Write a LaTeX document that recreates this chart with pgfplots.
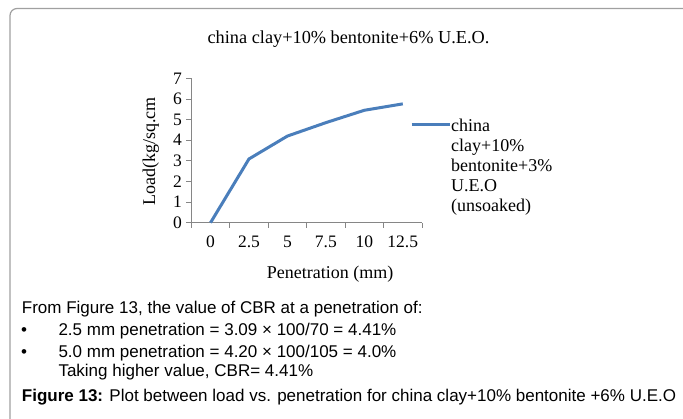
\documentclass[border=0pt]{standalone}
\usepackage{pgfplots}
\pgfplotsset{compat=1.18}
\usepackage{fontspec}
\setmainfont{Liberation Serif}
\newfontfamily\arialf{Liberation Sans}
\definecolor{xlblue}{HTML}{4A7EBB}
\definecolor{axgray}{HTML}{868686}
\definecolor{framegray}{HTML}{A0A0A0}
\begin{document}
\begin{tikzpicture}[x=1pt,y=1pt]
\path[use as bounding box] (0,0) rectangle (683,418);
\draw[framegray, line width=1.2pt, rounded corners=7pt] (700,409.5) -- (10,409.5) -- (10,-10);
\begin{axis}[
  at={(191.3pt,195.3pt)}, anchor=south west,
  scale only axis, width=230.7pt, height=144.4pt,
  xmin=-0.5, xmax=5.5, ymin=0, ymax=7,
  axis lines=left, axis line style={-, axgray, line width=0.8pt},
  tick style={axgray, line width=0.8pt},
  tick align=outside, major tick length=5pt,
  xtick={-0.5,0.5,...,5.5}, xticklabels={},
  extra x ticks={0,1,2,3,4,5},
  extra x tick labels={0,2.5,5,7.5,10,12.5},
  extra x tick style={major tick length=0pt, tick label style={yshift=-10pt}},
  ytick={0,1,...,7},
  yticklabel style={xshift=-1pt},
  /pgf/number format/assume math mode=true,
  tick label style={font=\fontsize{17.5}{17.5}\selectfont, black},
  clip=false,
]
\addplot[xlblue, line width=3pt, line join=round] coordinates {
  (0,0) (1,3.09) (2,4.20) (3,4.85) (4,5.45) (5,5.76)
};
\end{axis}
% title and axis labels
\node[anchor=base, font=\fontsize{18.3}{18.3}\selectfont] at (348.5,374.5) {china clay+10\% bentonite+6\% U.E.O.};
\node[anchor=base, font=\fontsize{18}{18}\selectfont] at (330,139) {Penetration (mm)};
\node[anchor=base, rotate=90, font=\fontsize{18}{18}\selectfont] at (155,266.3) {Load(kg/sq.cm};
% legend
\draw[xlblue, line width=3pt] (411.7,293.7) -- (450,293.7);
\node[anchor=base west, inner sep=0pt, align=left, font=\fontsize{18}{20}\selectfont] at (451,206.3) {china\\clay+10\%\\bentonite+3\%\\U.E.O\\(unsoaked)};
% text below
\begin{scope}[every node/.style={anchor=base west, inner sep=0pt, font=\arialf\fontsize{17}{19}\selectfont}]
\node at (21.7,104.7) {From Figure 13, the value of CBR at a penetration of:};
\node at (21,82) {\textbullet};
\node at (58.3,82) {2.5 mm penetration = 3.09 × 100/70 = 4.41\%};
\node at (21,60) {\textbullet};
\node at (58.3,60) {5.0 mm penetration = 4.20 × 100/105 = 4.0\%};
\node at (58.3,41.3) {Taking higher value, CBR= 4.41\%};
\node at (21.7,16.3) {\textbf{Figure 13:} Plot between load vs. penetration for china clay+10\% bentonite +6\% U.E.O};
\end{scope}
\end{tikzpicture}
\end{document}
